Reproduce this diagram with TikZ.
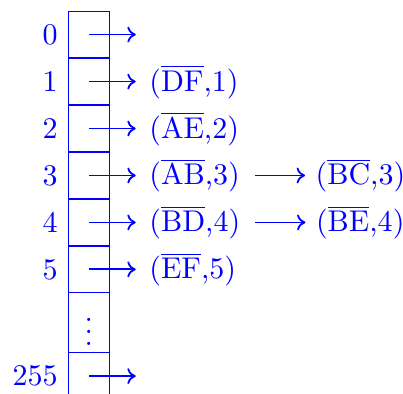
\documentclass[tikz,border=0pt]{standalone}
\usetikzlibrary{arrows.meta,positioning}
\tikzset{slot/.style={draw=blue,text=blue,outer sep=0pt,inner sep=0pt,minimum width=4.8mm,minimum height=5.5mm},idx/.style={text=blue},entry/.style={text=blue},edge/.style={-{Computer Modern Rightarrow[length=2.8pt,width=5.3pt]},line width=0.6pt,draw=blue}}

\begin{document}
\begin{tikzpicture}
\useasboundingbox (0,0) rectangle (4.72,-4.61);
% bucket column
\node[slot] (c0) at (1.04,-0.405) {};
\foreach \i [count=\j from 0] in {1,...,5} {\node[slot,below=0pt of c\j] (c\i) {};}
\node[slot,below=0pt of c5,minimum height=7mm] (cdots) {$\vdots$};
\node[slot,draw=none,below=0pt of cdots] (c255) {};
\draw[blue] (c255.south west) -- (c255.north west) (c255.north east) -- (c255.south east);
% indices
\foreach \i in {0,...,5} {\node[idx,left=0pt of c\i] (n\i) {\i};}
\node[idx,left=0pt of c255] (n255) {255};
% lists
\coordinate[right=5.5mm of c0.center] (e0);
\coordinate[right=5.5mm of c255.center] (e255);
\node[entry,right=5.85mm of c1.center] (e1) {(\(\overline{\mathrm{DF}}\),1)};
\node[entry,right=5.85mm of c2.center] (e2) {(\(\overline{\mathrm{AE}}\),2)};
\node[entry,right=5.85mm of c3.center] (e3) {(\(\overline{\mathrm{AB}}\),3)};
\node[entry,right=5.85mm of c4.center] (e4) {(\(\overline{\mathrm{BD}}\),4)};
\node[entry,right=5.85mm of c5.center] (e5) {(\(\overline{\mathrm{EF}}\),5)};
\node[entry,right=6.4mm of e3] (f3) {(\(\overline{\mathrm{BC}}\),3)};
\node[entry,right=6.4mm of e4] (f4) {(\(\overline{\mathrm{BE}}\),4)};
\draw[edge](c0.center)--(e0);\draw[edge](c255.center)--(e255);
\foreach \i in {1,...,5} {\draw[edge,shorten >=1pt](c\i.center)--(e\i);}
\draw[edge,shorten <=1.5pt](e3)--(f3);\draw[edge,shorten <=1.5pt](e4)--(f4);
\end{tikzpicture}
\end{document}
